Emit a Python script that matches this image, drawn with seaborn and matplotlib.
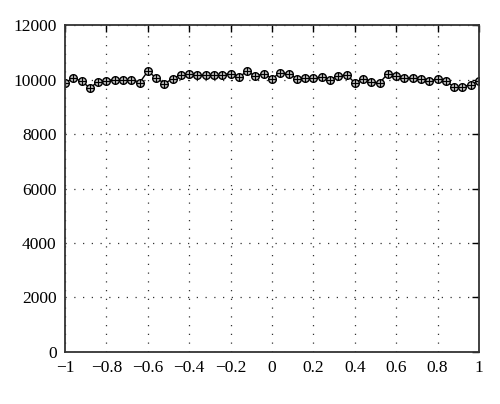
import numpy as np
import pandas as pd
import matplotlib
matplotlib.use("Agg")
import matplotlib.pyplot as plt
import seaborn as sns

# values, x from -1 to 1 in steps of 0.04
x_vals = [-1.00, -0.96, -0.92, -0.88, -0.84, -0.80, -0.76, -0.72, -0.68, -0.64,
          -0.60, -0.56, -0.52, -0.48, -0.44, -0.40, -0.36, -0.32, -0.28, -0.24,
          -0.20, -0.16, -0.12, -0.08, -0.04, 0.00, 0.04, 0.08, 0.12, 0.16,
          0.20, 0.24, 0.28, 0.32, 0.36, 0.40, 0.44, 0.48, 0.52, 0.56,
          0.60, 0.64, 0.68, 0.72, 0.76, 0.80, 0.84, 0.88, 0.92, 0.96, 1.00]
y_vals = [9890, 10075, 9950, 9706, 9928, 9975, 10012, 9987, 9987, 9890,
          10318, 10075, 9865, 10037, 10196, 10233, 10172, 10172, 10172, 10196,
          10233, 10098, 10318, 10135, 10233, 10049, 10258, 10233, 10049, 10075,
          10075, 10100, 10012, 10135, 10196, 9890, 10049, 9928, 9890, 10233,
          10135, 10075, 10075, 10049, 9950, 10049, 9950, 9743, 9743, 9828, 9950]
x_ticks = [-1, -0.8, -0.6, -0.4, -0.2, 0, 0.2, 0.4, 0.6, 0.8, 1]
x_labels = ["\u22121", "\u22120.8", "\u22120.6", "\u22120.4", "\u22120.2", "0",
            "0.2", "0.4", "0.6", "0.8", "1"]
y_ticks = [0, 2000, 4000, 6000, 8000, 10000, 12000]

df = pd.DataFrame({"x": x_vals, "y": y_vals})

sns.set_style("white")
plt.rcParams["font.family"] = ["Liberation Serif", "DejaVu Serif"]

fig = plt.figure(figsize=(5, 4.04), dpi=100)
ax = fig.add_axes([0.13, 0.129, 0.828, 0.808])

sns.lineplot(data=df, x="x", y="y", ax=ax, color="black", linewidth=1.0,
             marker="o", markersize=5.5, markerfacecolor="#bbbbbb",
             markeredgecolor="black", markeredgewidth=1.0)
ax.plot(df["x"], df["y"], linestyle="none", marker="+", markersize=5.5,
        color="black", markeredgewidth=0.8)

ax.set_xlim(-1, 1)
ax.set_ylim(0, 12000)
ax.set_xticks(x_ticks)
ax.set_xticklabels(x_labels)
ax.set_yticks(y_ticks)
ax.set_xlabel("")
ax.set_ylabel("")

ax.grid(True, color="#333333", linestyle=(0, (1, 6)), linewidth=0.9)
ax.tick_params(direction="in", length=5, width=1, top=True, right=True,
               labelsize=12.5, colors="black", pad=6)
for s in ax.spines.values():
    s.set_visible(True)
    s.set_color("#333333")
    s.set_linewidth(1.3)

fig.savefig("out.png", dpi=100)
